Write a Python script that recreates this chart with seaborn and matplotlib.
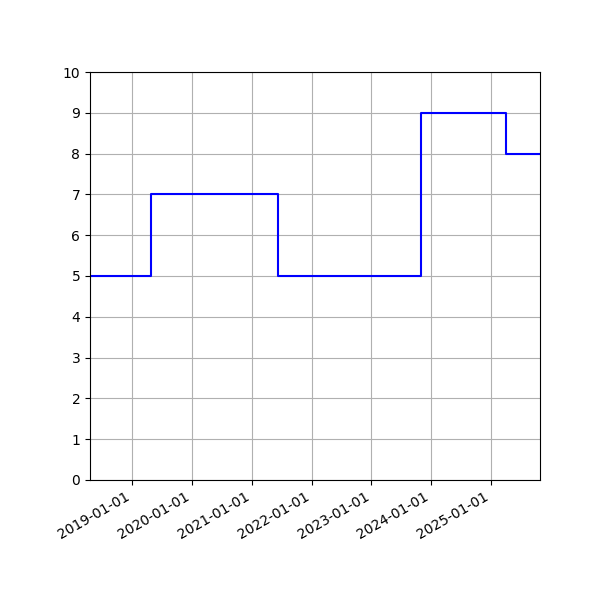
import pandas as pd
import matplotlib
matplotlib.use("Agg")
import matplotlib.pyplot as plt
import matplotlib.dates as mdates
import seaborn as sns

# даты смены значения и сами значения
dates = ["2018-04-20", "2019-04-20", "2019-04-27", "2021-06-11", "2023-11-01", "2025-04-01", "2025-10-26"]
values = [5, 5, 7, 5, 9, 8, 8]

df = pd.DataFrame({"date": pd.to_datetime(dates), "value": values})

fig, ax = plt.subplots(figsize=(6, 6), dpi=100)
sns.lineplot(data=df, x="date", y="value", color="blue", drawstyle="steps-post", ax=ax)

ax.set_xlim(df["date"].min(), df["date"].max())
ax.set_ylim(0, 10)
ax.set_yticks(range(0, 11))
ax.xaxis.set_major_locator(mdates.YearLocator())
ax.xaxis.set_major_formatter(mdates.DateFormatter("%Y-%m-%d"))
ax.set_xlabel("")
ax.set_ylabel("")
ax.grid(True)
fig.autofmt_xdate()
fig.subplots_adjust(left=0.15, right=0.9, top=0.88, bottom=0.2)

fig.savefig("out.png")
